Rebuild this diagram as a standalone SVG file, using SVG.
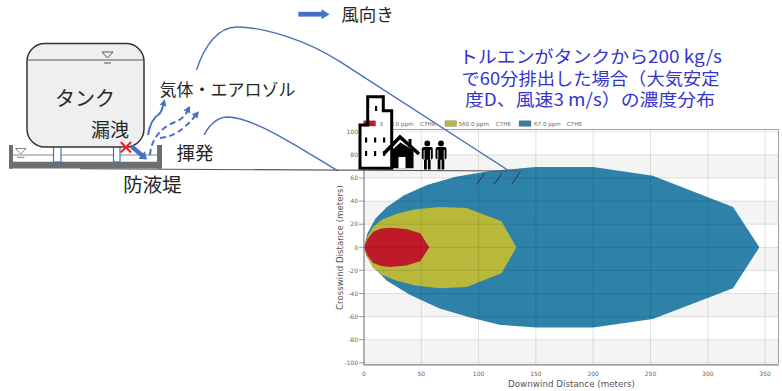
<svg xmlns="http://www.w3.org/2000/svg" width="782" height="391" viewBox="0 0 782 391">
  <defs>
    <style>
      .jp { font-family: "Noto Sans CJK JP", "Noto Sans", sans-serif; fill: #262626; }
      .title { font-family: "Noto Sans CJK JP", "Noto Sans", sans-serif; fill: #3434cf; font-size: 17.5px; text-anchor: middle; }
      .tick { font-family: "DejaVu Sans", "Liberation Sans", sans-serif; font-size: 6px; fill: #666; }
      .axt { font-family: "DejaVu Sans", "Liberation Sans", sans-serif; font-size: 9px; fill: #555; }
      .leg { font-family: "DejaVu Sans", "Liberation Sans", sans-serif; font-size: 5.6px; fill: #666; }
      .grid { stroke: rgba(0,0,0,0.14); stroke-width: 0.8; }
      .band { fill: #f4f4f4; }
      .flow { fill: none; stroke: #4472c4; stroke-width: 2; }
      .plume { fill: none; stroke: #4a6fb5; stroke-width: 1.4; }
      .ink { fill: #000; }
    </style>
    <marker id="head" viewBox="0 0 10 10" refX="2" refY="5" markerWidth="7" markerHeight="7" markerUnits="userSpaceOnUse" orient="auto">
      <path d="M0,0 L10,5 L0,10 z" fill="#4472c4"/>
    </marker>
  </defs>

  <!-- dispersion chart -->
  <g id="chart">
    <rect x="364" y="129.5" width="414.5" height="235" fill="#fff"/>
    <rect class="band" x="364" y="154.9" width="414.5" height="23.1"/>
    <rect class="band" x="364" y="201.1" width="414.5" height="23.1"/>
    <rect class="band" x="364" y="247.3" width="414.5" height="23.1"/>
    <rect class="band" x="364" y="293.5" width="414.5" height="23.1"/>
    <rect class="band" x="364" y="339.7" width="414.5" height="23.1"/>

    <!-- concentration footprints -->
    <polygon fill="#2e82a9" points="364,247.3 367.4,233.4 375.5,218.4 386.9,206.9 404.1,195.3 427,184.9 455.7,176.8 490.1,171.1 535.9,167 593.2,167 652.8,175.7 733,206.9 759.4,247.3 733,288.3 652.8,318.9 593.2,327.6 535.9,327.6 499.2,324.7 469.4,317.2 439.6,308.5 409.8,294.7 386.9,280.8 373.2,266.9 366.3,255.4"/>
    <polygon fill="#b8b83a" points="364,247.3 367.4,236.9 373.2,226.7 382.3,219.6 396.7,213.8 415.6,209.2 439.6,206.9 466.6,208 501.5,221.3 516.4,247.3 501.5,273.3 466.6,287.1 439.6,288.3 415.6,285.4 396.7,280.8 382.3,275 373.2,267.9 367.4,257.7"/>
    <polygon fill="#bf1a2a" points="364,247.3 367.4,239.2 373.2,231.7 381.2,228.5 390,227.7 406.4,229.1 420.2,233.3 429.3,247.3 420.2,261.3 406.4,265.5 390,266.9 381.2,266.1 373.2,262.9 367.4,255.4"/>

    <!-- grid -->
    <g class="grid">
      <line x1="421.3" y1="129.5" x2="421.3" y2="364.5"/>
      <line x1="478.6" y1="129.5" x2="478.6" y2="364.5"/>
      <line x1="535.9" y1="129.5" x2="535.9" y2="364.5"/>
      <line x1="593.2" y1="129.5" x2="593.2" y2="364.5"/>
      <line x1="650.5" y1="129.5" x2="650.5" y2="364.5"/>
      <line x1="707.8" y1="129.5" x2="707.8" y2="364.5"/>
      <line x1="765.1" y1="129.5" x2="765.1" y2="364.5"/>
      <line x1="364" y1="131.8" x2="778.5" y2="131.8"/>
      <line x1="364" y1="154.9" x2="778.5" y2="154.9"/>
      <line x1="364" y1="178" x2="778.5" y2="178"/>
      <line x1="364" y1="201.1" x2="778.5" y2="201.1"/>
      <line x1="364" y1="224.2" x2="778.5" y2="224.2"/>
      <line x1="364" y1="247.3" x2="778.5" y2="247.3"/>
      <line x1="364" y1="270.4" x2="778.5" y2="270.4"/>
      <line x1="364" y1="293.5" x2="778.5" y2="293.5"/>
      <line x1="364" y1="316.6" x2="778.5" y2="316.6"/>
      <line x1="364" y1="339.7" x2="778.5" y2="339.7"/>
      <line x1="364" y1="362.8" x2="778.5" y2="362.8"/>
    </g>

    <!-- frame and axes -->
    <path d="M364,129.5 H778.5 V364.5" fill="none" stroke="#a0a0a0" stroke-width="1"/>
    <path d="M364,129.5 V364.8 H778.5" fill="none" stroke="#808080" stroke-width="1.2"/>
    <g stroke="#808080" stroke-width="0.8">
      <line x1="359" y1="131.8" x2="364" y2="131.8"/>
      <line x1="359" y1="154.9" x2="364" y2="154.9"/>
      <line x1="359" y1="178" x2="364" y2="178"/>
      <line x1="359" y1="201.1" x2="364" y2="201.1"/>
      <line x1="359" y1="224.2" x2="364" y2="224.2"/>
      <line x1="359" y1="247.3" x2="364" y2="247.3"/>
      <line x1="359" y1="270.4" x2="364" y2="270.4"/>
      <line x1="359" y1="293.5" x2="364" y2="293.5"/>
      <line x1="359" y1="316.6" x2="364" y2="316.6"/>
      <line x1="359" y1="339.7" x2="364" y2="339.7"/>
      <line x1="359" y1="362.8" x2="364" y2="362.8"/>
    </g>
    <g class="tick" text-anchor="end">
      <text x="358" y="134">100</text>
      <text x="358" y="157.1">80</text>
      <text x="358" y="180.2">60</text>
      <text x="358" y="203.3">40</text>
      <text x="358" y="226.4">20</text>
      <text x="358" y="249.5">0</text>
      <text x="358" y="272.6">-20</text>
      <text x="358" y="295.7">-40</text>
      <text x="358" y="318.8">-60</text>
      <text x="358" y="341.9">-80</text>
      <text x="358" y="365">-100</text>
    </g>
    <g class="tick" text-anchor="middle">
      <text x="364" y="376">0</text>
      <text x="421.3" y="376">50</text>
      <text x="478.6" y="376">100</text>
      <text x="535.9" y="376">150</text>
      <text x="593.2" y="376">200</text>
      <text x="650.5" y="376">250</text>
      <text x="707.8" y="376">300</text>
      <text x="765.1" y="376">350</text>
    </g>
    <text class="axt" x="571.5" y="387" text-anchor="middle" textLength="127" lengthAdjust="spacingAndGlyphs">Downwind Distance (meters)</text>
    <text class="axt" transform="translate(342.5,247.5) rotate(-90)" text-anchor="middle" textLength="125" lengthAdjust="spacingAndGlyphs">Crosswind Distance (meters)</text>

    <!-- legend -->
    <g id="legend">
      <rect x="445" y="120.8" width="11.5" height="5.5" fill="#b8b83a" stroke="#777" stroke-width="0.4"/>
      <text class="leg" x="458.5" y="125.8">560.0 ppm</text>
      <text class="leg" x="495.7" y="125.8">C7H8</text>
      <rect x="519" y="120.8" width="12" height="5.5" fill="#2e82a9" stroke="#777" stroke-width="0.4"/>
      <text class="leg" x="534" y="125.8">67.0 ppm</text>
      <text class="leg" x="566.7" y="125.8">C7H8</text>
      <text class="leg" x="379.5" y="125.8">3700.0 ppm</text>
      <text class="leg" x="420" y="125.8">C7H8</text>
    </g>
  </g>

  <!-- neighbouring buildings and people -->
  <g id="building">
    <polygon fill="#fff" points="383.3,110.7 391.7,110.7 391.7,168.3 360,168.3 360,127.5 383.3,127.5"/>
    <rect x="363.5" y="120.6" width="12.2" height="5.6" fill="#bf1a2a"/>
    <path d="M367.7,96.7 H383.3 V110.7 H391.7 V168.3 H360 V125 H367.7 Z" fill="none" stroke="#000" stroke-width="3"/>
    <g class="ink">
      <rect x="375" y="106" width="2.2" height="5"/>
      <rect x="365" y="137.5" width="2.2" height="5"/>
      <rect x="374" y="137.5" width="2.2" height="5"/>
      <rect x="383" y="137.5" width="2.2" height="5"/>
      <rect x="365" y="151" width="2.2" height="5"/>
      <rect x="374" y="151" width="2.2" height="5"/>
      <rect x="383" y="151" width="2.2" height="5"/>
    </g>
  </g>
  <g id="house">
    <polyline points="383.5,154 400,137 419,154" fill="none" stroke="#000" stroke-width="3.5"/>
    <rect class="ink" x="408.5" y="139" width="3" height="8"/>
    <polygon class="ink" points="391.5,168.3 391.5,150.5 400.5,142.5 413.5,150.5 413.5,168.3"/>
    <rect x="398.5" y="157" width="7" height="11.3" fill="#fff"/>
  </g>
  <g id="people">
    <g class="ink">
      <circle cx="427.3" cy="143.4" r="2.9"/>
      <rect x="421.8" y="147" width="11" height="12.5" rx="2"/>
      <rect x="424" y="156" width="3" height="13.5"/>
      <rect x="427.6" y="156" width="3" height="13.5"/>
      <circle cx="441" cy="143.4" r="2.9"/>
      <rect x="435.5" y="147" width="11" height="12.5" rx="2"/>
      <rect x="437.7" y="156" width="3" height="13.5"/>
      <rect x="441.3" y="156" width="3" height="13.5"/>
    </g>
    <g stroke="#fff" stroke-width="0.8">
      <line x1="424.1" y1="150" x2="424.1" y2="160"/>
      <line x1="430.5" y1="150" x2="430.5" y2="160"/>
      <line x1="427.3" y1="160" x2="427.3" y2="169.5"/>
      <line x1="437.8" y1="150" x2="437.8" y2="160"/>
      <line x1="444.2" y1="150" x2="444.2" y2="160"/>
      <line x1="441" y1="160" x2="441" y2="169.5"/>
    </g>
  </g>

  <!-- tank inside the dike -->
  <g id="dike">
    <line x1="13" y1="155" x2="157" y2="155" stroke="#888" stroke-width="1"/>
    <polygon points="15.5,148.5 26,148.5 20.8,154" fill="none" stroke="#777" stroke-width="0.9"/>
    <line x1="17" y1="157.3" x2="24.5" y2="157.3" stroke="#777" stroke-width="0.9"/>
    <rect x="9" y="145" width="4" height="23.5" fill="#6e6e6e"/>
    <rect x="157" y="145" width="5" height="23.5" fill="#6e6e6e"/>
    <rect x="9" y="161.5" width="153" height="7" fill="#6e6e6e"/>
    <rect x="13" y="160" width="144" height="1.5" fill="#fff"/>
  </g>
  <g id="tank">
    <rect x="53.5" y="146" width="7.5" height="16" fill="#fff" stroke="#4472c4" stroke-width="1.2"/>
    <rect x="113.5" y="146" width="6.5" height="16" fill="#fff" stroke="#4472c4" stroke-width="1.2"/>
    <rect x="27" y="43.5" width="117" height="103.5" rx="18" fill="#efefef" stroke="#333" stroke-width="1.5"/>
    <line x1="27.8" y1="60" x2="143.2" y2="60" stroke="#555" stroke-width="1"/>
    <polygon points="102,52 113,52 107.5,58" fill="none" stroke="#444" stroke-width="0.9"/>
    <line x1="104" y1="63" x2="111" y2="63" stroke="#444" stroke-width="0.9"/>
    <text class="jp" x="85" y="106" font-size="20" text-anchor="middle">タンク</text>
    <text class="jp" x="110" y="137" font-size="19" text-anchor="middle">漏洩</text>
  </g>

  <!-- ground line and hatching -->
  <g id="ground">
    <line x1="80" y1="168.8" x2="522" y2="171" stroke="#555" stroke-width="1.1"/>
    <g stroke="#333" stroke-width="1">
      <line x1="476.7" y1="184.3" x2="484.3" y2="173.7"/>
      <line x1="494" y1="184.3" x2="501.7" y2="173.7"/>
      <line x1="511.7" y1="184.3" x2="520" y2="172.3"/>
    </g>
  </g>

  <!-- connectors: leak, evaporation flows and plume outline -->
  <g id="connectors">
    <polygon fill="#4472c4" points="132.9,144.7 143.1,153.3 144.9,151.2 147,159.5 138.4,158.8 140.2,156.7 130.1,148.1"/>
    <g stroke="#ff1a1a" stroke-width="2">
      <line x1="120.8" y1="142" x2="131" y2="152.5"/>
      <line x1="131" y1="142" x2="120.8" y2="152.5"/>
    </g>
    <path class="flow" d="M148,135 C150,124 153,118 158,115 C162,112 162,109 163.3,104.5" marker-end="url(#head)"/>
    <path class="flow" d="M150,155 C151,140 160,128 175,122 C182,119 185,116 187.5,110.8" stroke-dasharray="6,3.5" marker-end="url(#head)"/>
    <path class="flow" d="M160,138 C172,137 183,131 195.5,115.5" stroke-dasharray="6,3.5" marker-end="url(#head)"/>
    <path class="plume" d="M196.5,70 C205,44 219,27 237,27 C262,27 305,39 340,61.7 L510,171.5"/>
    <path class="plume" d="M204,135 C210,124 218,117 228,117 C255,118 300,148 338,171"/>
  </g>

  <!-- wind direction -->
  <g id="wind">
    <rect x="298.3" y="11.8" width="24" height="4.8" fill="#4472c4"/>
    <polygon points="321.5,9.2 329.5,14.2 321.5,19.3" fill="#4472c4"/>
    <text class="jp" x="367.5" y="20.5" font-size="17.5" text-anchor="middle">風向き</text>
  </g>

  <!-- labels -->
  <g id="labels">
    <text class="jp" x="227.5" y="95.5" font-size="17" text-anchor="middle">気体・エアロゾル</text>
    <text class="jp" x="195" y="160" font-size="18.5" text-anchor="middle">揮発</text>
    <text class="jp" x="152.5" y="192" font-size="19.5" text-anchor="middle">防液堤</text>
  </g>
  <g id="caption">
    <text class="title">
      <tspan x="592.4" y="63" textLength="263" lengthAdjust="spacingAndGlyphs">トルエンがタンクから200 kg/s</tspan>
      <tspan x="592.5" y="84.5" textLength="258" lengthAdjust="spacingAndGlyphs">で60分排出した場合（大気安定</tspan>
      <tspan x="590" y="106" textLength="250" lengthAdjust="spacingAndGlyphs">度D、風速3 m/s）の濃度分布</tspan>
    </text>
  </g>
</svg>
